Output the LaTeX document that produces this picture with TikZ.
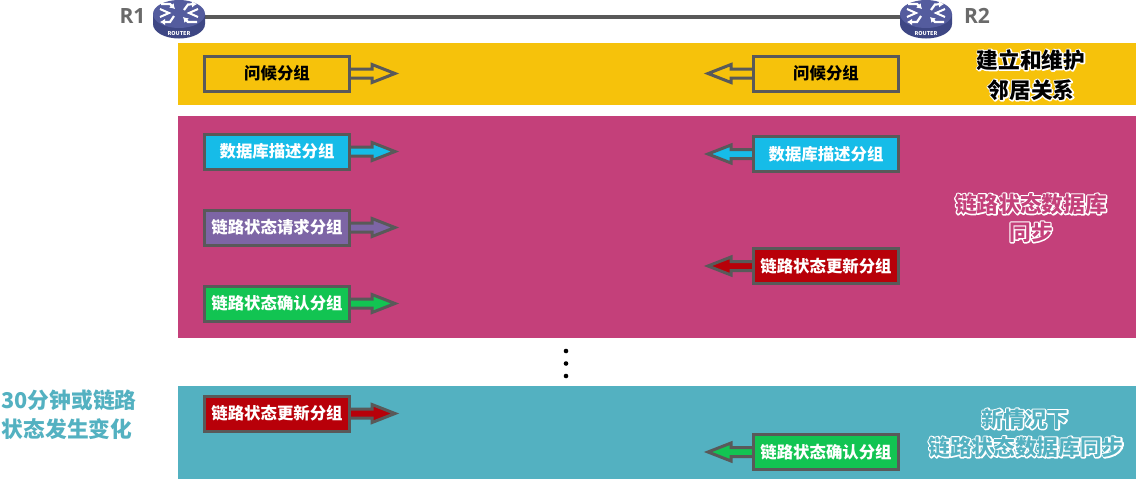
\documentclass[tikz,border=0pt]{standalone}
\usepackage{fontspec}
\setmainfont{Noto Sans CJK SC}
\newfontfamily\latinbold{Open Sans}
\usetikzlibrary{arrows.meta}
\definecolor{cyel}{HTML}{F6C20B}
\definecolor{cmag}{HTML}{C4407A}
\definecolor{cteal}{HTML}{53B1C1}
\definecolor{cline}{HTML}{595959}
\definecolor{ccyan}{HTML}{16BCE8}
\definecolor{cpur}{HTML}{7D65A5}
\definecolor{cgrn}{HTML}{12C452}
\definecolor{cred}{HTML}{B80009}
\definecolor{crtop}{HTML}{545C9E}
\definecolor{crside}{HTML}{3E4784}
\newcommand{\halotext}[2]{\leavevmode\rlap{\special{pdf:code q 2 Tr 2.6 w 1 j 1 1 1 RG 1 1 1 rg}#2\special{pdf:code Q}}\textcolor{#1}{#2}}
\tikzset{
 x=1pt,y=-1pt,
 pkbox/.style={draw=cline,line width=3pt,minimum width=145pt,minimum height=35pt,inner sep=0pt,font=\fontsize{16.4}{17}\selectfont\bfseries},
 pkarrow/.style={draw=cline,line width=3pt,line join=miter},
 bigtxt/.style={font=\fontsize{21.7}{23}\selectfont\bfseries,inner sep=0pt},
 rlabel/.style={font=\fontsize{21}{22}\selectfont\latinbold\bfseries,text=cline!90,inner sep=0pt},
 dotmark/.style={circle,fill=black,inner sep=0pt,minimum size=4.6pt},
 rtrarrow/.style={white,line width=2.2pt,-{Latex[length=5pt,width=6.5pt]}},
}
% name, centre x, centre y, colour, text colour, text
\newcommand{\rightpk}[6]{%
 \draw[pkarrow,fill=#4] (#2+72,#3-4.5) -- (#2+95,#3-4.5) -- (#2+95,#3-9) -- (#2+118,#3) -- (#2+95,#3+9) -- (#2+95,#3+4.5) -- (#2+72,#3+4.5);
 \node[pkbox,fill=#4,text=#5] (#1) at (#2,#3) {#6};
}
\newcommand{\leftpk}[6]{%
 \draw[pkarrow,fill=#4] (#2-72,#3-4.5) -- (#2-95,#3-4.5) -- (#2-95,#3-9) -- (#2-118,#3) -- (#2-95,#3+9) -- (#2-95,#3+4.5) -- (#2-72,#3+4.5);
 \node[pkbox,fill=#4,text=#5] (#1) at (#2,#3) {#6};
}
\newcommand{\routerdraw}[1]{%
 \begin{scope}[shift={(#1,0)}]
  \fill[crside] (-26,14) -- (-26,24) arc[start angle=180,end angle=360,x radius=26pt,y radius=14.5pt] -- (26,14) -- cycle;
  \fill[crtop] (0,14) ellipse[x radius=26pt,y radius=14pt];
  \draw[rtrarrow] (-18,4) -- (-9,4) -- (-4,9);
  \draw[rtrarrow] (5,10) -- (9,4.5) -- (18,4);
  \draw[rtrarrow] (-5,16) -- (-9,22) -- (-19,22);
  \draw[rtrarrow] (18,22) -- (9,22) -- (4,17);
  \draw[white,line width=2pt] (-19,9) -- (-10,13) -- (-19,17);
  \draw[white,line width=2pt] (19,9) -- (10,13) -- (19,17);
  \node[font=\fontsize{5.4}{6}\selectfont\bfseries,text=white,inner sep=0pt] at (0,33.5) {ROUTER};
 \end{scope}}
\begin{document}
\begin{tikzpicture}
\useasboundingbox (0,0) rectangle (1137,488);
\fill[white] (0,0) rectangle (1137,488);
\fill[cyel] (178,43) rectangle (1136,105);
\fill[cmag] (178,116) rectangle (1136,338);
\fill[cteal] (178,386) rectangle (1136,479);
\coordinate (r1) at (179,17);
\coordinate (r2) at (926,17);
\draw[cline,line width=3.6pt] (r1) -- (r2);
\routerdraw{179}
\routerdraw{926}
\node[rlabel] (lr1) at (132.5,16) {R1};
\node[rlabel] (lr2) at (977,16) {R2};
\rightpk{a}{277}{73.5}{cyel}{black}{问候分组}
\leftpk{b}{826}{73.5}{cyel}{black}{问候分组}
\rightpk{c}{277}{151.5}{ccyan}{white}{数据库描述分组}
\leftpk{d}{826}{154}{ccyan}{white}{数据库描述分组}
\rightpk{e}{277}{227.5}{cpur}{white}{链路状态请求分组}
\leftpk{f}{826}{266}{cred}{white}{链路状态更新分组}
\rightpk{g}{277}{303.5}{cgrn}{white}{链路状态确认分组}
\rightpk{h}{277}{413.5}{cred}{white}{链路状态更新分组}
\leftpk{i}{826}{452}{cgrn}{white}{链路状态确认分组}
\node[bigtxt] (t1) at (1031,60) {\halotext{black}{建立和维护}};
\node[bigtxt] (t2) at (1031,90) {\halotext{black}{邻居关系}};
\node[bigtxt] (t3) at (1031,204) {\halotext{cmag}{链路状态数据库}};
\node[bigtxt] (t4) at (1031,232) {\halotext{cmag}{同步}};
\node[bigtxt] (t5) at (1025,419) {\halotext{cteal}{新情况下}};
\node[bigtxt] (t6) at (1026,447) {\halotext{cteal}{链路状态数据库同步}};
\node[bigtxt] (t7) at (69,400) {\halotext{cteal}{30分钟或链路}};
\node[bigtxt] (t8) at (67,429) {\halotext{cteal}{状态发生变化}};
\node[dotmark] (d1) at (566,351) {};
\node[dotmark] (d2) at (566,363.5) {};
\node[dotmark] (d3) at (566,376) {};
\end{tikzpicture}
\end{document}
